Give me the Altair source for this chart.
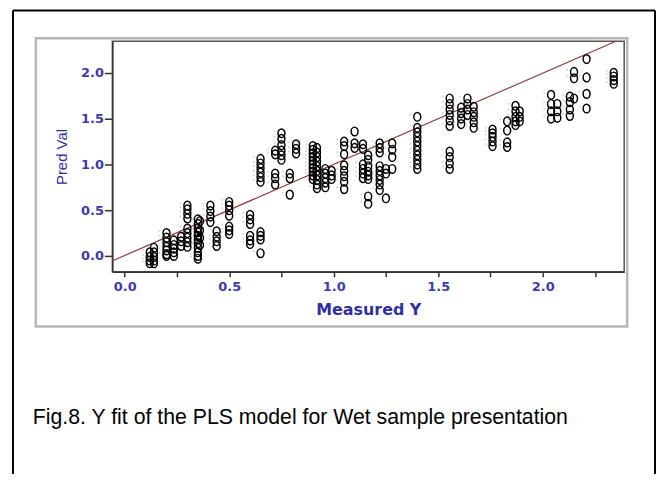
import altair as alt
import pandas as pd

# Measured Y value of each column of points, and predicted values in that column
col_measured = [0.12, 0.14, 0.20, 0.235, 0.27, 0.30, 0.35, 0.36, 0.41, 0.44,
                0.50, 0.60, 0.65, 0.72, 0.75, 0.79, 0.82, 0.90, 0.92, 0.96,
                0.99, 1.05, 1.10, 1.14, 1.165, 1.22, 1.25, 1.28, 1.40, 1.555,
                1.61, 1.64, 1.67, 1.76, 1.83, 1.87, 1.89, 2.04, 2.07, 2.13,
                2.15, 2.21, 2.34]
col_predicted = [
    [0.04, -0.01, -0.05, -0.08],
    [0.09, 0.04, -0.01, -0.05, -0.08],
    [0.25, 0.20, 0.15, 0.10, 0.06, 0.02, 0.00],
    [0.17, 0.12, 0.08, 0.04, 0.00],
    [0.21, 0.16, 0.11],
    [0.55, 0.51, 0.46, 0.41, 0.30, 0.25, 0.20, 0.15, 0.10],
    [0.40, 0.35, 0.30, 0.26, 0.22, 0.18, 0.14, 0.09, 0.04, 0.00, -0.03],
    [0.38, 0.28, 0.20, 0.12],
    [0.55, 0.49, 0.43, 0.37],
    [0.27, 0.21, 0.16, 0.11],
    [0.59, 0.55, 0.50, 0.44, 0.32, 0.28, 0.24],
    [0.45, 0.40, 0.35, 0.22, 0.17, 0.13],
    [1.06, 1.01, 0.96, 0.91, 0.86, 0.81, 0.26, 0.22, 0.18, 0.03],
    [1.15, 1.11, 0.90, 0.85, 0.78],
    [1.34, 1.28, 1.21, 1.15, 1.10, 1.05],
    [0.90, 0.85, 0.67],
    [1.22, 1.17, 1.12],
    [1.20, 1.16, 1.12, 1.08, 1.04, 1.00, 0.96, 0.92, 0.88, 0.84],
    [1.18, 1.13, 1.08, 1.03, 0.98, 0.93, 0.88, 0.83, 0.78, 0.74],
    [0.95, 0.90, 0.85, 0.80, 0.75],
    [0.93, 0.88, 0.84],
    [1.25, 1.20, 1.11, 0.99, 0.93, 0.87, 0.81, 0.73],
    [1.36, 1.23, 1.18],
    [1.22, 1.17, 1.00, 0.95, 0.90, 0.85],
    [1.10, 1.05, 0.98, 0.92, 0.88, 0.84, 0.65, 0.57],
    [1.23, 1.18, 1.13, 0.98, 0.93, 0.88, 0.83, 0.78, 0.72],
    [0.95, 0.90, 0.63],
    [1.23, 1.16, 1.08, 0.95],
    [1.52, 1.40, 1.35, 1.30, 1.25, 1.20, 1.15, 1.10, 1.05, 1.00, 0.95],
    [1.72, 1.66, 1.60, 1.54, 1.48, 1.42, 1.14, 1.08, 1.01, 0.95],
    [1.62, 1.56, 1.50, 1.44],
    [1.72, 1.66, 1.60, 1.54],
    [1.63, 1.57, 1.52, 1.46, 1.40],
    [1.38, 1.34, 1.30, 1.25, 1.20],
    [1.47, 1.37, 1.24, 1.19],
    [1.64, 1.58, 1.52, 1.47, 1.43],
    [1.58, 1.52, 1.47],
    [1.76, 1.66, 1.58, 1.50],
    [1.66, 1.58, 1.51],
    [1.74, 1.68, 1.60, 1.53],
    [2.01, 1.94, 1.72],
    [2.15, 1.95, 1.77, 1.61],
    [2.00, 1.96, 1.92, 1.88],
]

# Fit line end points
line_x = [-0.06, 2.35]
line_y = [-0.055, 2.345]

x_ticks = [0.0, 0.25, 0.5, 0.75, 1.0, 1.25, 1.5, 1.75, 2.0, 2.25]
y_ticks = [0.0, 0.25, 0.5, 0.75, 1.0, 1.25, 1.5, 1.75, 2.0, 2.25]
x_domain = [-0.059, 2.39]
y_domain = [-0.173, 2.345]

caption = "Fig.8. Y fit of the PLS model for Wet sample presentation"

rows = []
for mx, ys in zip(col_measured, col_predicted):
    for py in ys:
        rows.append({"measured": mx, "pred": py})
df = pd.DataFrame(rows)
df_line = pd.DataFrame({"measured": line_x, "pred": line_y})

LABEL_BLUE = "#3b3bab"
TITLE_BLUE = "#2f2f9f"

xscale = alt.Scale(domain=x_domain, nice=False, zero=False)
yscale = alt.Scale(domain=y_domain, nice=False, zero=False)

xaxis = alt.Axis(values=x_ticks, title="Measured Y",
                 labelExpr="datum.value % 0.5 === 0 ? format(datum.value, '.1f') : ''",
                 grid=False, domainColor="#333333", domainWidth=1.5,
                 tickColor="#333333", tickWidth=1.5, tickSize=5,
                 labelFont="DejaVu Sans", labelFontWeight="bold", labelFontSize=13,
                 labelColor=LABEL_BLUE, labelPadding=4,
                 titleFont="DejaVu Sans", titleFontWeight="bold", titleFontSize=16,
                 titleColor=TITLE_BLUE, titleBaseline="alphabetic", titleY=43,
                 titleX=257.5, titleAlign="center")
yaxis = alt.Axis(values=y_ticks, title="Pred Val",
                 labelExpr="datum.value % 0.5 === 0 ? format(datum.value, '.1f') : ''",
                 grid=False, domainColor="#333333", domainWidth=1.5,
                 tickColor="#333333", tickWidth=1.5, tickSize=8,
                 labelFont="DejaVu Sans", labelFontWeight="bold", labelFontSize=13,
                 labelColor=LABEL_BLUE, labelPadding=1,
                 titleFont="Liberation Sans", titleFontWeight="normal", titleFontSize=15,
                 titleColor=TITLE_BLUE, titleAngle=270, titleX=-51, titleY=116,
                 titleAlign="center", titleBaseline="middle")

ellipse = "M-0.8,0A0.8,1,0,1,1,0.8,0A0.8,1,0,1,1,-0.8,0Z"

dots = alt.Chart(df).mark_square(size=3, color="#cfcfcf", xOffset=-7, yOffset=-2, opacity=0.9).encode(
    x=alt.X("measured:Q", scale=xscale, axis=xaxis),
    y=alt.Y("pred:Q", scale=yscale, axis=yaxis),
)

points = alt.Chart(df).mark_point(shape=ellipse, size=76, filled=False,
                                  stroke="black", strokeWidth=1.45, opacity=1).encode(
    x=alt.X("measured:Q", scale=xscale),
    y=alt.Y("pred:Q", scale=yscale),
)

fit = alt.Chart(df_line).mark_line(color="#8c3b3b", strokeWidth=1.2).encode(
    x=alt.X("measured:Q", scale=xscale),
    y=alt.Y("pred:Q", scale=yscale),
)

# Frames and caption (decoration outside the plot area)
deco_df = pd.DataFrame({"k": [0]})
gray_frame = alt.Chart(deco_df).mark_rect(fill=None, stroke="#b8b8b8", strokeWidth=2.5).encode(
    x=alt.value(-77), x2=alt.value(518), y=alt.value(-3), y2=alt.value(287))
outer_left = alt.Chart(deco_df).mark_rule(color="black", strokeWidth=2).encode(
    x=alt.value(-100), y=alt.value(-31), y2=alt.value(460))
outer_right = alt.Chart(deco_df).mark_rule(color="black", strokeWidth=2).encode(
    x=alt.value(546), y=alt.value(-31), y2=alt.value(460))
outer_top = alt.Chart(deco_df).mark_rule(color="black", strokeWidth=2).encode(
    x=alt.value(-100), x2=alt.value(546), y=alt.value(-31))
cap = alt.Chart(deco_df).mark_text(text=caption, font="Liberation Sans", fontSize=21.4,
                                   align="left", baseline="alphabetic", color="black").encode(
    x=alt.value(-80), y=alt.value(385))

chart = alt.layer(gray_frame, outer_left, outer_right, outer_top, cap, dots, fit, points).properties(
    width=515, height=232,
    padding={"left": 105, "top": 32, "right": 33, "bottom": 202},
    autosize=alt.AutoSizeParams(type="none"),
    background="white",
).configure_view(stroke="#555555", strokeWidth=1.5)

chart.save("out.html", embed_options={"renderer": "svg", "actions": False})
